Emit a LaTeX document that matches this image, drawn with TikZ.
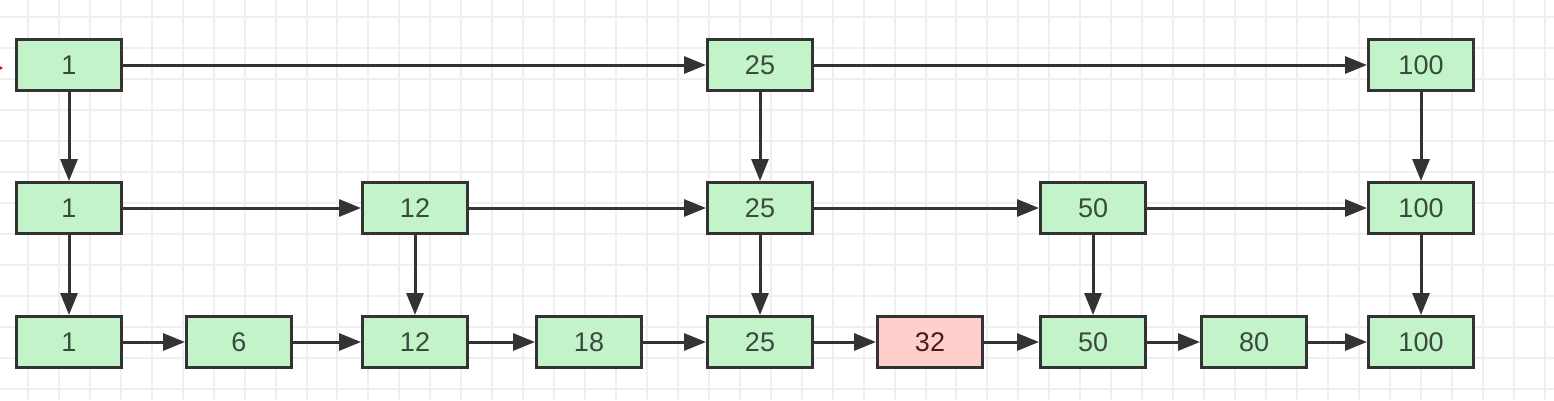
\documentclass[tikz,border=0pt]{standalone}
\usepackage{fontspec}
\setmainfont{Liberation Sans}
\usetikzlibrary{arrows.meta}
\definecolor{boxgreen}{HTML}{C3F3C8}
\definecolor{boxpink}{HTML}{FFCFCC}
\definecolor{edge}{HTML}{333333}
\definecolor{gridc}{HTML}{EFEFEF}
\definecolor{txt}{HTML}{3A4A3C}
\tikzset{
  cell/.style={draw=edge, line width=3pt, fill=boxgreen, minimum width=105pt, minimum height=51pt, inner sep=0pt,
    font=\fontsize{27}{30}\selectfont, text=txt},
  hot/.style={cell, fill=boxpink, text=txt!70!red!60!black},
  link/.style={draw=edge, line width=3pt, -{Triangle[length=22pt,width=17pt]}, shorten >=0pt},
}
\begin{document}
\begin{tikzpicture}[x=1pt,y=-1pt]
\useasboundingbox (0,0) rectangle (1554,400);
\fill[white] (0,0) rectangle (1554,400);
% grid
\foreach \k in {0,...,50} {
  \draw[gridc, line width=2pt] ({-3+30.95*\k},0) -- ({-3+30.95*\k},400);
}
\foreach \k in {0,...,13} {
  \draw[gridc, line width=2pt] (0,{17+31*\k}) -- (1554,{17+31*\k});
}
% red mark at left edge
\fill[red] (-7,62) -- (3,68) -- (-7,74) -- cycle;
% row 1
\node[cell] (a1)   at (69,65)   {1};
\node[cell] (a25)  at (760,65)  {25};
\node[cell] (a100) at (1421,65) {100};
% row 2
\node[cell] (b1)   at (69,208)   {1};
\node[cell] (b12)  at (415,208)  {12};
\node[cell] (b25)  at (760,208)  {25};
\node[cell] (b50)  at (1093,208) {50};
\node[cell] (b100) at (1421,208) {100};
% row 3
\node[cell] (c1)   at (69,342)   {1};
\node[cell] (c6)   at (239,342)  {6};
\node[cell] (c12)  at (415,342)  {12};
\node[cell] (c18)  at (589,342)  {18};
\node[cell] (c25)  at (760,342)  {25};
\node[hot]  (c32)  at (930,342)  {32};
\node[cell] (c50)  at (1093,342) {50};
\node[cell] (c80)  at (1254,342) {80};
\node[cell] (c100) at (1421,342) {100};
% horizontal links
\draw[link] (a1) -- (a25);
\draw[link] (a25) -- (a100);
\draw[link] (b1) -- (b12);
\draw[link] (b12) -- (b25);
\draw[link] (b25) -- (b50);
\draw[link] (b50) -- (b100);
\draw[link] (c1) -- (c6);
\draw[link] (c6) -- (c12);
\draw[link] (c12) -- (c18);
\draw[link] (c18) -- (c25);
\draw[link] (c25) -- (c32);
\draw[link] (c32) -- (c50);
\draw[link] (c50) -- (c80);
\draw[link] (c80) -- (c100);
% vertical links
\draw[link] (a1) -- (b1);
\draw[link] (a25) -- (b25);
\draw[link] (a100) -- (b100);
\draw[link] (b1) -- (c1);
\draw[link] (b12) -- (c12);
\draw[link] (b25) -- (c25);
\draw[link] (b50) -- (c50);
\draw[link] (b100) -- (c100);
\end{tikzpicture}
\end{document}
